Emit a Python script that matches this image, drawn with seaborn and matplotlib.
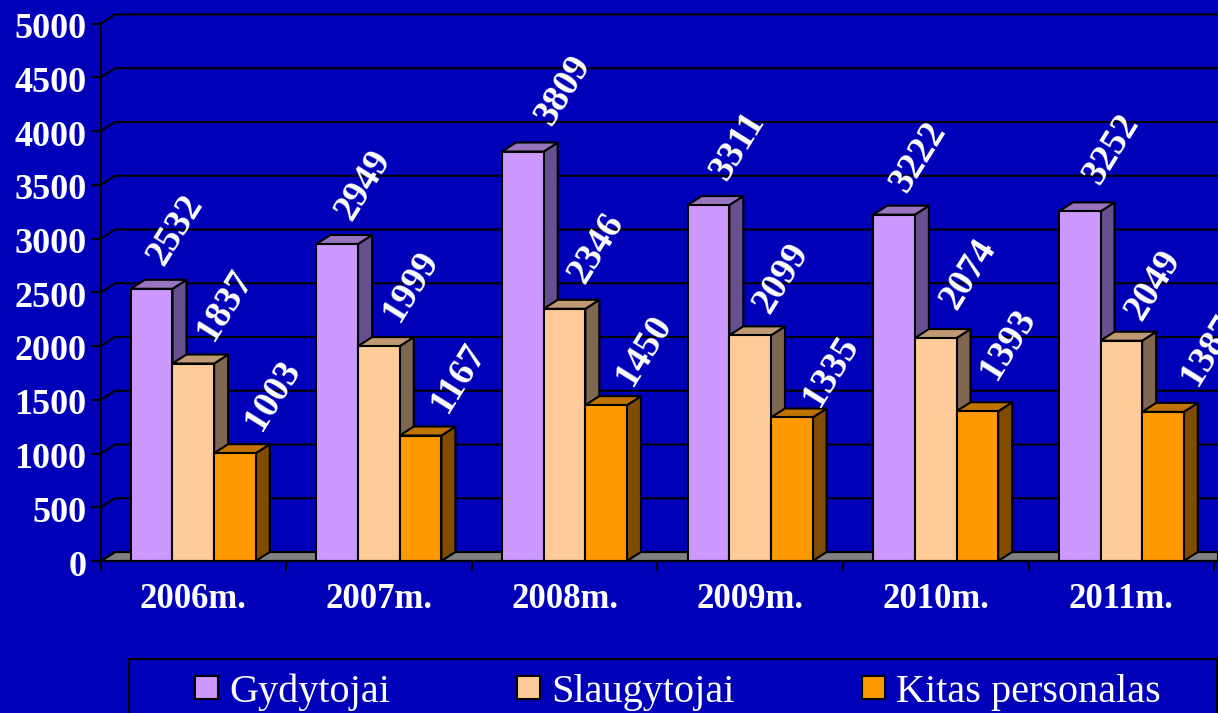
import numpy as np
import pandas as pd
import matplotlib
matplotlib.use("Agg")
import matplotlib.pyplot as plt
from matplotlib.patches import Polygon, Rectangle
from matplotlib.transforms import ScaledTranslation
import seaborn as sns

years = ["2006m.", "2007m.", "2008m.", "2009m.", "2010m.", "2011m."]
gydytojai = [2532, 2949, 3809, 3311, 3222, 3252]
slaugytojai = [1837, 1999, 2346, 2099, 2074, 2049]
kitas = [1003, 1167, 1450, 1335, 1393, 1387]
series_names = ["Gydytojai", "Slaugytojai", "Kitas personalas"]
y_ticks = [0, 500, 1000, 1500, 2000, 2500, 3000, 3500, 4000, 4500, 5000]

BG = "#0000B8"
front = ["#CC99FF", "#FFCC99", "#FF9900"]
side = ["#66508F", "#7F6650", "#7F4C00"]
top = ["#9975BF", "#BF9973", "#BF7300"]
label_off = [(25, 59), (30, 59), (37, 58)]
label_nudge = [
    [(-1, 0), (1, 0), (15, 2), (4, 0), (-1, -1), (7, 3)],
    [(2, -1), (2, 1), (2, 2), (1, -2), (2, 5), (2, -3)],
    [(1, 0), (1, -1), (1, -3), (2, -12), (-7, 9), (9, 4)],
]

df = pd.DataFrame({
    "year": years * 3,
    "series": sum([[n] * len(years) for n in series_names], []),
    "value": gydytojai + slaugytojai + kitas,
})

sns.set_theme(style="white", rc={"font.family": ["Liberation Serif", "DejaVu Serif"]})
plt.rcParams["font.family"] = ["Liberation Serif", "DejaVu Serif"]

W, H = 1218, 713
LW = 1.5
fig = plt.figure(figsize=(W / 100, H / 100), dpi=100, facecolor=BG)
L, R, Y0, Y5 = 100.5, 1218, 561, 23.5
ax = fig.add_axes([L / W, (H - Y0) / H, (R - L) / W, (Y0 - Y5) / H], facecolor=BG)

sns.barplot(data=df, x="year", y="value", hue="series", hue_order=series_names,
            palette=front, saturation=1, width=0.673, gap=0, dodge=True,
            edgecolor="black", linewidth=LW, legend=False, ax=ax, zorder=3)

step = 185.7
ax.set_xlim(-0.497, -0.497 + (R - L) / step)
ax.set_ylim(0, 5000)
dx = 14 / step
dy = 9 * 5000 / (Y0 - Y5)
x_left, x_right = ax.get_xlim()

# back wall grid, side wall diagonals, floor
ax.add_patch(Polygon([(x_left, 0), (x_left + dx, dy), (x_right, dy), (x_right, 0)],
                     closed=True, fc="#808080", ec="black", lw=LW, clip_on=False, zorder=1))
for v in y_ticks:
    ax.plot([x_left, x_left + dx, x_right], [v, v + dy, v + dy], color="black",
            lw=LW, clip_on=False, zorder=1, solid_joinstyle="miter")

# 3-D sides, tops and labels for every bar
n = len(years)
for s, cont_vals in enumerate([gydytojai, slaugytojai, kitas]):
    bars = ax.containers[s]
    for i, (bar, val) in enumerate(zip(bars, cont_vals)):
        x0 = bar.get_x()
        x1 = x0 + bar.get_width()
        bar.set_zorder(3 + s + 0.5)
        ax.add_patch(Polygon([(x1, 0), (x1 + dx, dy), (x1 + dx, val + dy), (x1, val)], closed=True,
                             fc=side[s], ec="black", lw=LW, clip_on=False, zorder=3 + s))
        ax.add_patch(Polygon([(x0, val), (x0 + dx, val + dy), (x1 + dx, val + dy), (x1, val)], closed=True,
                             fc=top[s], ec="black", lw=LW, clip_on=False, zorder=3 + s))
        ox = label_off[s][0] + label_nudge[s][i][0]
        oy = label_off[s][1] + label_nudge[s][i][1]
        ax.annotate(str(val), xy=((x0 + x1) / 2, val), xytext=(ox, oy), textcoords="offset pixels",
                    rotation=58, rotation_mode="anchor", ha="center", va="center", color="white",
                    fontweight="bold", fontsize=27, annotation_clip=False, zorder=10)

ax.set_xlabel("")
ax.set_ylabel("")
ax.set_yticks(y_ticks)
ax.set_xticks(np.arange(-0.5, n + 0.5), minor=False)
ax.set_xticklabels([""] * (n + 1))
for i, y in enumerate(years):
    ax.text(i, -39 * 5000 / (Y0 - Y5), y, ha="center", va="center", color="white",
            fontweight="bold", fontsize=25, clip_on=False)
ax.tick_params(axis="both", color="black", width=LW, length=7, bottom=True, left=True, pad=3)
shift = ScaledTranslation(0, -2 / 100, fig.dpi_scale_trans)
for t in ax.get_yticklabels():
    t.set_color("white")
    t.set_fontweight("bold")
    t.set_fontsize(26)
    t.set_transform(t.get_transform() + shift)
for name, sp in ax.spines.items():
    sp.set_visible(name in ("left", "bottom"))
    sp.set_color("black")
    sp.set_linewidth(LW)
    sp.set_zorder(9)

# legend
fig.add_artist(Rectangle((129 / W, -0.02), 1088 / W, (H - 659) / H + 0.02, transform=fig.transFigure,
                         fc="none", ec="black", lw=LW, clip_on=False))
handles = [Rectangle((0, 0), 1, 1, fc=c, ec="black", lw=LW) for c in front]
FS = 29
px = FS * 100 / 72
fig.legend(handles, series_names, ncol=3, frameon=False, loc="center left",
           bbox_to_anchor=(195 / W, (H - 692) / H), borderpad=0, borderaxespad=0,
           fontsize=FS, labelcolor="white", handlelength=23 / px, handleheight=20 / px,
           handletextpad=11 / px, columnspacing=127 / px)

fig.savefig("out.png", dpi=100, facecolor=BG)
